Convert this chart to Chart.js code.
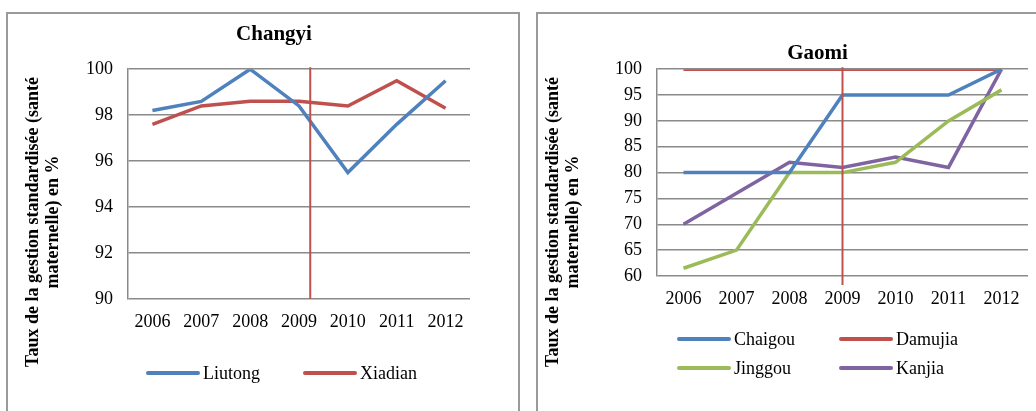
<!DOCTYPE html>
<html>
<head>
<meta charset="utf-8">
<script src="https://cdn.jsdelivr.net/npm/chart.js@4/dist/chart.umd.min.js"></script>
<style>
body { margin: 0; background: #fff; width: 1036px; height: 411px; overflow: hidden; position: relative; }
.box { position: absolute; top: 12px; width: 510px; height: 420px; border: 2px solid #9a9a9a; }
#box1 { left: 6px; }
#box2 { left: 536px; }
canvas { display: block; }
</style>
</head>
<body>
<div class="box" id="box1"><canvas id="changyiChart" width="510" height="397"></canvas></div>
<div class="box" id="box2"><canvas id="gaomiChart" width="510" height="397"></canvas></div>
<script>
var years = ['2006', '2007', '2008', '2009', '2010', '2011', '2012'];

// Changyi
var liutong = [98.2, 98.6, 100, 98.4, 95.5, 97.6, 99.5];
var xiadian = [97.6, 98.4, 98.6, 98.6, 98.4, 99.5, 98.3];
var changyiTicks = [90, 92, 94, 96, 98, 100];
var changyiMarker = 3.23; // red line, in year index units

// Gaomi
var chaigou = [80, 80, 80, 95, 95, 95, 100];
var damujia = [100, 100, 100, 100, 100, 100, 100];
var jinggou = [61.5, 65, 80, 80, 82, 90, 96];
var kanjia = [70, 76, 82, 81, 83, 81, 100];
var gaomiTicks = [60, 65, 70, 75, 80, 85, 90, 95, 100];
var gaomiMarker = 3;

var yTitle = ['Taux de la gestion standardisée (santé', 'maternelle) en %'];

var blue = '#4f81bd', red = '#c0504d', green = '#9bbb59', purple = '#8064a2';
var gridGray = '#8a8a8a';

Chart.defaults.font.family = '"Liberation Serif", "Times New Roman", serif';
Chart.defaults.font.size = 18;
Chart.defaults.color = '#000';

// y title, hand made legend and the red year line
var extras = {
  id: 'extras',
  afterDatasetsDraw: function (chart, args, opts) {
    var ctx = chart.ctx, area = chart.chartArea;
    var px = chart.scales.x.getPixelForValue(opts.marker);
    ctx.save();
    ctx.strokeStyle = red;
    ctx.lineWidth = 2;
    ctx.beginPath();
    ctx.moveTo(px, area.top - 2);
    ctx.lineTo(px, area.bottom + opts.markerExtend);
    ctx.stroke();
    ctx.restore();
  },
  afterDraw: function (chart, args, opts) {
    var ctx = chart.ctx, area = chart.chartArea;
    ctx.save();
    ctx.fillStyle = '#000';
    ctx.font = 'bold 18px "Liberation Serif"';
    ctx.textAlign = 'center';
    ctx.textBaseline = 'middle';
    opts.titleX.forEach(function (x, i) {
      ctx.save();
      ctx.translate(x, opts.titleY);
      ctx.rotate(-Math.PI / 2);
      ctx.fillText(yTitle[i], 0, 0);
      ctx.restore();
    });

    ctx.font = '18px "Liberation Serif"';
    ctx.textAlign = 'left';
    chart.data.datasets.forEach(function (ds, i) {
      var col = i % opts.legendCols.length;
      var row = Math.floor(i / opts.legendCols.length);
      var x = area.left + opts.legendCols[col];
      var y = opts.legendRows[row];
      ctx.strokeStyle = ds.borderColor;
      ctx.lineWidth = 4;
      ctx.lineCap = 'round';
      ctx.beginPath();
      ctx.moveTo(x, y);
      ctx.lineTo(x + 50, y);
      ctx.stroke();
      ctx.fillText(ds.label, x + 55, y + 1);
    });
    ctx.restore();
  }
};

function lineSet(label, data, color) {
  return {
    label: label,
    data: data,
    borderColor: color,
    backgroundColor: color,
    borderWidth: 3.5,
    pointRadius: 0,
    tension: 0
  };
}

function makeOptions(title, titlePad, ticks, padLeft, padRight, xHeight, extraOpts) {
  return {
    responsive: false,
    animation: false,
    layout: { padding: { left: padLeft, right: padRight, top: 0, bottom: 0 } },
    plugins: {
      legend: { display: false },
      tooltip: { enabled: false },
      title: {
        display: true,
        text: title,
        color: '#000',
        font: { size: 21, weight: 'bold' },
        padding: titlePad
      },
      extras: extraOpts
    },
    scales: {
      x: {
        offset: true,
        grid: { display: false, drawTicks: false },
        border: { display: false },
        ticks: { padding: 12, maxRotation: 0, autoSkip: false },
        afterFit: function (s) { s.height = xHeight; }
      },
      y: {
        min: ticks[0],
        max: ticks[ticks.length - 1],
        ticks: { stepSize: ticks[1] - ticks[0], padding: 15 },
        grid: { color: gridGray, lineWidth: 1.5, drawTicks: false },
        border: { display: true, color: gridGray, width: 1.5 },
        afterFit: function (s) { s.width = 50; }
      }
    }
  };
}

new Chart(document.getElementById('changyiChart'), {
  type: 'line',
  data: {
    labels: years,
    datasets: [
      lineSet('Liutong', liutong, blue),
      lineSet('Xiadian', xiadian, red)
    ]
  },
  options: makeOptions('Changyi', { top: 8, bottom: 22 }, changyiTicks, 70, 48, 112, {
    marker: changyiMarker,
    markerExtend: 0,
    titleX: [25, 45],
    titleY: 208,
    legendCols: [20, 177],
    legendRows: [359]
  }),
  plugins: [extras]
});

new Chart(document.getElementById('gaomiChart'), {
  type: 'line',
  data: {
    labels: years,
    datasets: [
      lineSet('Chaigou', chaigou, blue),
      lineSet('Damujia', damujia, red),
      lineSet('Jinggou', jinggou, green),
      lineSet('Kanjia', kanjia, purple)
    ]
  },
  options: makeOptions('Gaomi', { top: 27, bottom: 3 }, gaomiTicks, 69, 20, 135, {
    marker: gaomiMarker,
    markerExtend: 9,
    titleX: [15, 35],
    titleY: 208,
    legendCols: [22, 184],
    legendRows: [325, 354]
  }),
  plugins: [extras]
});
</script>
</body>
</html>
